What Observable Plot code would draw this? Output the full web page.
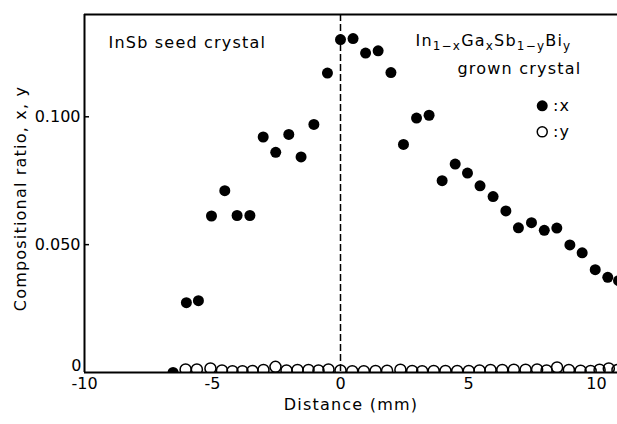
<!DOCTYPE html>
<html><head><meta charset="utf-8">
<script src="https://cdn.jsdelivr.net/npm/d3@7"></script>
<script src="https://cdn.jsdelivr.net/npm/@observablehq/plot@0.6"></script>
<style>body{margin:0;background:#fff;} svg{display:block}</style>
</head><body><div id="chart"></div>
<script>
// Ga fraction x (filled dots): distance (mm) and value
const xDist = [-6.54,-6.02,-5.55,-5.04,-4.52,-4.04,-3.54,-3.02,-2.53,-2.02,-1.54,-1.04,-0.51,0.00,0.49,0.98,1.47,1.97,2.46,2.97,3.46,3.97,4.48,4.96,5.45,5.96,6.46,6.95,7.46,7.96,8.45,8.96,9.44,9.95,10.44,10.86];
const xVal  = [0.0,0.0273,0.0281,0.0612,0.0711,0.0614,0.0614,0.0921,0.0861,0.0931,0.0843,0.0970,0.1171,0.1302,0.1306,0.1249,0.1258,0.1173,0.0892,0.0995,0.1006,0.0750,0.0815,0.0780,0.0730,0.0688,0.0632,0.0566,0.0586,0.0556,0.0565,0.0499,0.0468,0.0402,0.0372,0.0359];
// Bi fraction y (open circles)
const yDist = [-6.05,-5.61,-5.08,-4.63,-4.22,-3.83,-3.44,-3.01,-2.54,-2.11,-1.68,-1.25,-0.86,-0.47,0.0,0.46,0.91,1.37,1.82,2.34,2.80,3.19,3.64,4.10,4.56,5.01,5.43,5.86,6.32,6.77,7.23,7.68,8.05,8.46,8.92,9.38,9.77,10.12,10.48,10.82];
const yVal  = [0.0012,0.0012,0.0016,0.0008,0.0005,0.0005,0.0006,0.0010,0.0022,0.0008,0.0010,0.0010,0.0008,0.0012,0.0008,0.0005,0.0005,0.0006,0.0007,0.0011,0.0006,0.0005,0.0006,0.0006,0.0006,0.0006,0.0008,0.0010,0.0010,0.0011,0.0011,0.0012,0.0008,0.0020,0.0010,0.0007,0.0006,0.0011,0.0016,0.0010];
const xTicks = [-10,-5,0,5,10];
const xTickLabels = ["-10","-5","0","5","10"];
const yTicks = [0.05,0.1];
const yTickLabels = ["0.050","0.100"];
const formulaParts = [["In",false],["1\u2212x",true],["Ga",false],["x",true],["Sb",false],["1\u2212y",true],["Bi",false],["y",true]];
const formulaPlain = formulaParts.map(p=>p[0]).join("");
const annotations = ["InSb seed crystal", "grown crystal", ":x", ":y", "Distance (mm)", "Compositional ratio, x, y", formulaPlain];

const xData = xDist.map((d,i)=>({d, v:xVal[i]}));
const yData = yDist.map((d,i)=>({d, v:yVal[i]}));
const font = "'DejaVu Sans', sans-serif";

const chart = Plot.plot({
  width: 617, height: 424,
  marginLeft: 84, marginRight: 0, marginTop: 14, marginBottom: 52,
  style: {fontFamily: font, fontSize: "16px", color: "#000", background: "#fff"},
  x: {domain: [-10, 10.82]},
  y: {domain: [0, 0.14]},
  marks: [
    Plot.ruleX([-10], {stroke: "#000", strokeWidth: 2}),
    Plot.ruleY([0], {stroke: "#000", strokeWidth: 2}),
    Plot.ruleY([0.14], {stroke: "#000", strokeWidth: 2}),
    Plot.ruleX([0], {stroke: "#000", strokeWidth: 1.5, strokeDasharray: "7,3"}),
    Plot.axisY(yTicks, {tickSize: -5, tickPadding: 9, tickFormat: (d,i)=>yTickLabels[i], label: null, fontSize: 16, strokeWidth: 1.5}),
    Plot.axisY([0], {tickSize: 0, tickPadding: 3, tickFormat: () => "0", label: null, fontSize: 16, dy: -7}),
    Plot.axisX(xTicks, {tickSize: 0, tickPadding: 5, tickFormat: (d,i)=>xTickLabels[i], label: null, fontSize: 16}),
    Plot.text(["Compositional ratio, x, y"], {frameAnchor: "left", textAnchor: "middle", dx: -64, dy: 5, rotate: -90, fontSize: 16}),
    Plot.text(["Distance (mm)"], {frameAnchor: "bottom", dx: 0, dy: 37, fontSize: 16}),
    Plot.dot(yData, {x: "d", y: "v", r: 5.5, stroke: "#000", strokeWidth: 1.5, fill: "none", clip: true}),
    Plot.dot(xData, {x: "d", y: "v", r: 5.5, fill: "#000", stroke: "none", clip: true}),
    Plot.text(["InSb seed crystal"], {x: -9.06, y: 0.1289, textAnchor: "start", fontSize: 16}),
    Plot.text([formulaPlain], {x: 2.93, y: 0.1297, textAnchor: "start", fontSize: 16}),
    Plot.text(["grown crystal"], {x: 4.57, y: 0.1188, textAnchor: "start", fontSize: 16}),
    Plot.dot([{d: 7.88, v: 0.1043}], {x: "d", y: "v", r: 5.5, fill: "#000"}),
    Plot.dot([{d: 7.88, v: 0.0941}], {x: "d", y: "v", r: 5, stroke: "#000", strokeWidth: 1.5, fill: "none"}),
    Plot.text([":x"], {x: 8.3, y: 0.1043, textAnchor: "start", fontSize: 16}),
    Plot.text([":y"], {x: 8.3, y: 0.0941, textAnchor: "start", fontSize: 16})
  ]
});
document.getElementById("chart").appendChild(chart);

// wider lettering for annotation texts, like the reference
d3.select(chart).selectAll("text").filter(function(){ return annotations.includes(this.textContent); })
  .attr("letter-spacing", "1.2px");

// rich text for the formula (subscripts)
d3.select(chart).selectAll("text").filter(function(){ return this.textContent === formulaPlain; }).each(function(){
  const t = d3.select(this);
  t.text("");
  let sub = false;
  formulaParts.forEach(([s, isSub]) => {
    const ts = t.append("tspan").text(s);
    if (isSub && !sub) { ts.attr("dy", 4).attr("font-size", 12); sub = true; }
    else if (isSub) { ts.attr("font-size", 12); }
    else if (sub) { ts.attr("dy", -4); sub = false; }
  });
});
</script>
</body></html>
